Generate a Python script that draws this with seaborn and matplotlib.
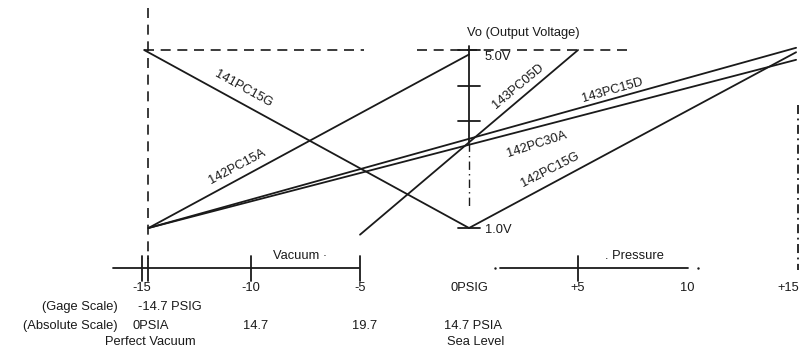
import pandas as pd
import matplotlib
matplotlib.use("Agg")
import matplotlib.pyplot as plt
import seaborn as sns

# transfer lines of each sensor: start/end in gage psi and output volts
models = ["141PC15G", "142PC15A", "143PC05D", "143PC15D", "142PC30A", "142PC15G"]
p_start = [-14.9, -14.7, -5.0, -14.7, -14.7, 0.0]
v_start = [5.0, 1.0, 0.85, 1.0, 1.0, 1.0]
p_end = [0.0, 0.0, 5.0, 15.0, 15.0, 15.0]
v_end = [1.0, 4.9, 5.0, 5.05, 4.78, 4.95]

# scales
gage_ticks = [-15, -10, -5, 0, 5, 10, 15]
gage_labels = ["-15", "-10", "-5", "0PSIG", "+5", "10", "+15"]
abs_pos = [-14.7, -10, -5, 0]
abs_labels = ["0PSIA", "14.7", "19.7", "14.7 PSIA"]
vout_ticks = [5.0, 4.2, 3.4, 1.0]

rows = []
for m, p0, v0, p1, v1 in zip(models, p_start, v_start, p_end, v_end):
    rows.append({"model": m, "psi": p0, "vout": v0})
    rows.append({"model": m, "psi": p1, "vout": v1})
df = pd.DataFrame(rows)

sns.set_theme(style="white")
plt.rcParams["font.family"] = ["Liberation Sans", "DejaVu Sans"]
fs = 9.3

fig = plt.figure(figsize=(8.07, 3.53), dpi=100)
ax = fig.add_axes([0, 0, 1, 1])
ax.set_xlim(-21.51, 15.50)
ax.set_ylim(-1.809, 6.124)
ax.axis("off")

ink = "#1a1a1a"
sns.lineplot(data=df, x="psi", y="vout", units="model", estimator=None,
             color=ink, lw=1.3, ax=ax, legend=False, sort=False)

# guide lines
ax.plot([-14.9, -4.8], [5.0, 5.0], ls=(0, (6, 4)), color=ink, lw=1.2)
ax.plot([-2.4, 7.3], [5.0, 5.0], ls=(0, (6, 4)), color=ink, lw=1.2)
ax.plot([-14.7, -14.7], [5.94, 0.3], ls=(0, (6, 4)), color=ink, lw=1.2)
ax.plot([15.1, 15.1], [3.76, 0.06], ls=(0, (5, 2.5, 1, 2.5)), color=ink, lw=1.3)

# output voltage axis
ax.plot([0, 0], [5.1, 2.9], color=ink, lw=1.3)
ax.plot([0, 0], [2.9, 1.5], ls=(0, (6, 3, 1, 3)), color=ink, lw=1.0)
for v in vout_ticks:
    ax.plot([-0.5, 0.5], [v, v], color=ink, lw=1.3)
ax.text(0.7, 4.84, "5.0V", fontsize=fs, ha="left", va="center", color=ink)
ax.text(0.75, 0.96, "1.0V", fontsize=fs, ha="left", va="center", color=ink)
ax.text(2.5, 5.38, "Vo (Output Voltage)", fontsize=fs, ha="center", va="center", color=ink)

# pressure axis
ax.plot([-16.33, -5.05], [0.1, 0.1], color=ink, lw=1.3)
ax.plot([1.42, 10.05], [0.1, 0.1], color=ink, lw=1.3)
ax.plot([1.2, 10.5], [0.1, 0.1], ls="none", marker=".", ms=1.5, color=ink)
for p in [-15, -14.7, -10, -5, 5]:
    ax.plot([p, p], [0.36, -0.18], color=ink, lw=1.3)
ax.text(-7.75, 0.37, "Vacuum \u00b7", fontsize=fs, ha="center", va="center", color=ink)
ax.text(7.6, 0.37, ". Pressure", fontsize=fs, ha="center", va="center", color=ink)

for p, lab in zip(gage_ticks, gage_labels):
    ax.text(p - (0.35 if p == 15 else 0), -0.35, lab, fontsize=fs,
            ha="center", va="center", color=ink)
ax.text(-16.1, -0.78, "(Gage Scale)", fontsize=fs, ha="right", va="center", color=ink)
ax.text(-15.2, -0.78, "-14.7 PSIG", fontsize=fs, ha="left", va="center", color=ink)
ax.text(-16.1, -1.2, "(Absolute Scale)", fontsize=fs, ha="right", va="center", color=ink)
for p, lab in zip(abs_pos, abs_labels):
    ax.text(p + (0.2 if p != -14.7 else 0.1), -1.2, lab, fontsize=fs,
            ha="center", va="center", color=ink)
ax.text(-14.6, -1.56, "Perfect Vacuum", fontsize=fs, ha="center", va="center", color=ink)
ax.text(0.3, -1.56, "Sea Level", fontsize=fs, ha="center", va="center", color=ink)

# model labels along the lines
label_pos = [(-10.37, 4.12, -29), (-10.64, 2.37, 28), (2.25, 4.17, 40),
             (6.6, 4.10, 16), (3.12, 2.87, 18), (3.7, 2.30, 27)]
for m, (p, v, r) in zip(models, label_pos):
    ax.text(p, v, m, fontsize=fs, rotation=r, rotation_mode="anchor",
            ha="center", va="center", color=ink)

fig.savefig("out.png", dpi=100)
